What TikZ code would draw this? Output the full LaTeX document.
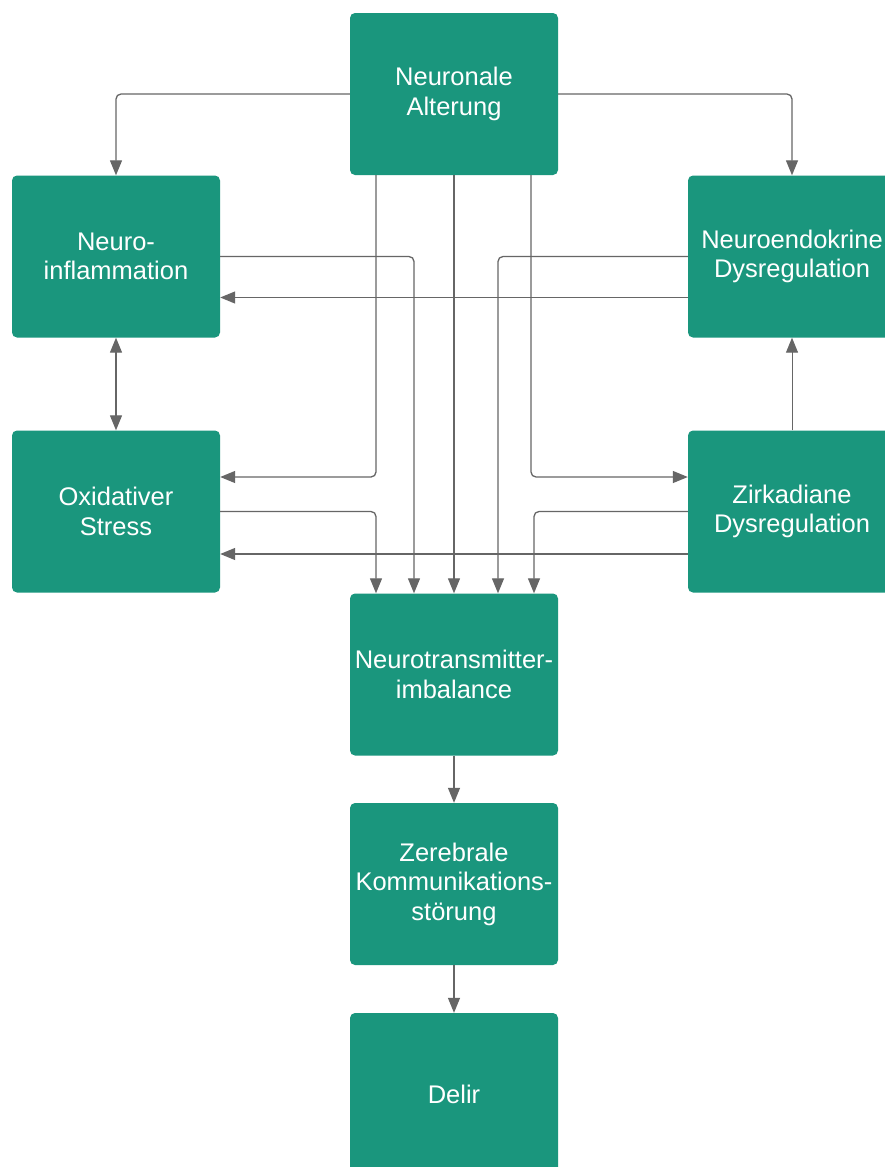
\documentclass[tikz,border=0pt]{standalone}
\usepackage{fontspec}
\setmainfont{Liberation Sans}
\usetikzlibrary{arrows.meta}
\definecolor{boxgreen}{HTML}{1A967D}
\definecolor{linegray}{HTML}{666666}
\begin{document}
\begin{tikzpicture}[x=1pt,y=-1pt,
  box/.style={fill=boxgreen, draw=none, rounded corners=5pt, minimum width=208pt, minimum height=162pt, inner sep=0pt, text=white, align=center, font=\fontsize{25.5}{29.5}\selectfont},
  tip/.style={Triangle[length=15pt,width=12pt]},
  conn/.style={draw=linegray, line width=1.3pt, rounded corners=5pt, -{Triangle[length=15pt,width=12pt]}},
  conn2/.style={draw=linegray, line width=1.3pt, {Triangle[length=15pt,width=12pt]}-{Triangle[length=15pt,width=12pt]}},
]
\clip (0,0) rectangle (885,1167);
\fill[white] (0,0) rectangle (885,1167);
\node[box] (na) at (454,94) {Neuronale\\Alterung};
\node[box] (ni) at (116,256.5) {Neuro-\\inflammation};
\node[box] (ne) at (792,256.5) {Neuroendokrine\\Dysregulation};
\node[box] (ox) at (116,511.5) {Oxidativer\\Stress};
\node[box] (zi) at (792,511.5) {Zirkadiane\\Dysregulation};
\node[box] (nt) at (454,674.5) {Neurotransmitter-\\imbalance};
\node[box] (ze) at (454,884) {Zerebrale\\Kommunikations-\\störung};
\node[box] (de) at (454,1094) {Delir};

\draw[conn] (na.west) -| (ni.north);
\draw[conn] (na.east) -| (ne.north);
\draw[conn] ([xshift=-78pt]na.south) |- ([yshift=34.5pt]ox.east);
\draw[conn] (na.south) -- (nt.north);
\draw[conn] ([xshift=77pt]na.south) |- ([yshift=34.5pt]zi.west);
\draw[conn] (ni.east) -| ([xshift=-40pt]nt.north);
\draw[conn] (ne.west) -| ([xshift=44pt]nt.north);
\draw[conn] ([yshift=-41pt]ne.west) -- ([yshift=-41pt]ni.east);
\draw[conn2] (ni.south) -- (ox.north);
\draw[conn, line width=1pt] (zi.north) -- (ne.south);
\draw[conn] (ox.east) -| ([xshift=-78pt]nt.north);
\draw[conn] (zi.west) -| ([xshift=80pt]nt.north);
\draw[conn] ([yshift=-42.5pt]zi.west) -- ([yshift=-42.5pt]ox.east);
\draw[conn] (nt.south) -- (ze.north);
\draw[conn] (ze.south) -- (de.north);
\end{tikzpicture}
\end{document}
